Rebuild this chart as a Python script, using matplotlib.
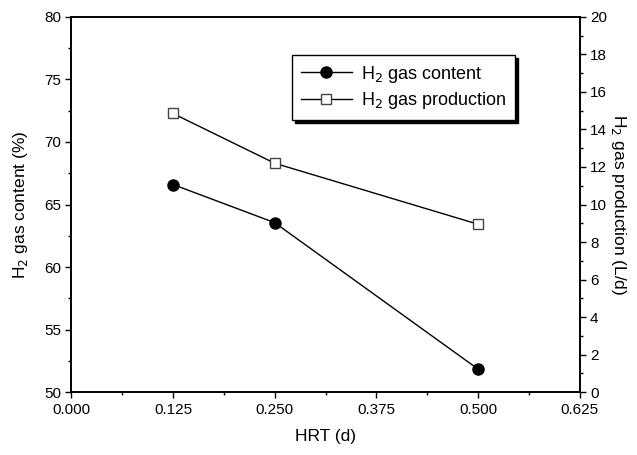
import matplotlib.pyplot as plt
from matplotlib.ticker import MultipleLocator, FormatStrFormatter

plt.rcParams['font.family'] = ['Liberation Sans', 'DejaVu Sans']

hrt = [0.125, 0.25, 0.5]
h2_content = [66.6, 63.55, 51.85]      # %
h2_production = [14.85, 12.2, 8.95]    # L/d

fig, ax = plt.subplots(figsize=(6.37, 4.55), dpi=100)
fig.subplots_adjust(left=0.112, right=0.910, top=0.963, bottom=0.138)
ax2 = ax.twinx()

l1, = ax.plot(hrt, h2_content, color='black', lw=1.0, marker='o', ms=8,
              mfc='black', mec='black', label='H$_2$ gas content')
l2, = ax2.plot(hrt, h2_production, color='black', lw=1.0, marker='s', ms=7,
               mfc='white', mec='#444444', mew=1.0, label='H$_2$ gas production')

ax.set_xlim(0, 0.625)
ax.set_ylim(50, 80)
ax2.set_ylim(0, 20)

ax.xaxis.set_major_locator(MultipleLocator(0.125))
ax.xaxis.set_minor_locator(MultipleLocator(0.0625))
ax.xaxis.set_major_formatter(FormatStrFormatter('%.3f'))
ax.yaxis.set_major_locator(MultipleLocator(5))
ax.yaxis.set_minor_locator(MultipleLocator(2.5))
ax2.yaxis.set_major_locator(MultipleLocator(2))
ax2.yaxis.set_minor_locator(MultipleLocator(1))

for a in (ax, ax2):
    a.tick_params(which='major', direction='out', length=4, width=1.0, labelsize=11)
    a.tick_params(which='minor', direction='out', length=2.5, width=1.0)
    for s in a.spines.values():
        s.set_linewidth(1.2)

ax.set_xlabel('HRT (d)', fontsize=12.5, labelpad=9)
ax.set_ylabel('H$_2$ gas content (%)', fontsize=12.5, labelpad=10)
ax2.set_ylabel('H$_2$ gas production (L/d)', fontsize=12.5, rotation=270, labelpad=15)

# legend with black drop shadow, placed inside upper right
leg = ax.legend(handles=[l1, l2], loc='upper left', bbox_to_anchor=(0.434, 0.899),
                fontsize=13, frameon=True, fancybox=False, edgecolor='black',
                shadow={'color': 'black', 'alpha': 1.0}, handlelength=2.8,
                borderpad=0.5, labelspacing=0.3, borderaxespad=0,
                handletextpad=0.5)
leg.get_frame().set_linewidth(1.0)

fig.savefig('out.png', dpi=100)
